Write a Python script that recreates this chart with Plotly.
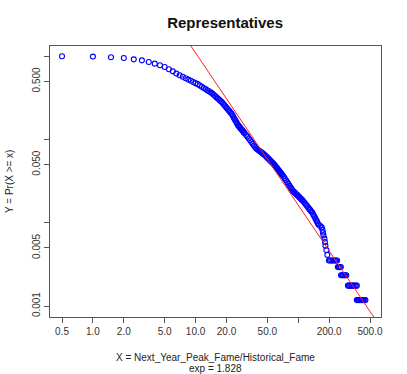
import plotly.graph_objects as go

# ── data (CCDF of fame ratio) ────────────────────────────────────────────────
head_x = [0.5, 1.0, 1.5, 2.0, 2.5, 3.0, 3.5, 4.0, 4.5, 5.0, 5.5, 6.0, 6.5]
head_y = [1.0, 0.992, 0.973, 0.954, 0.92, 0.895, 0.855, 0.817, 0.78, 0.744,
          0.698, 0.66, 0.62]

body_x = [7, 7.5, 8, 8.5, 9, 9.5, 10, 10.5, 11, 11.5, 12, 12.5, 13, 13.5, 14,
          14.5, 15, 15.5, 16, 16.5, 17, 17.5, 18, 18.5, 19, 19.5, 20,
          20.5, 21, 21.5, 22, 22.5, 23, 23.5, 24, 24.5, 25, 25.5, 26, 26.5,
          27, 27.5, 28, 28.5, 29, 29.5, 30,
          31, 32, 33, 34, 35, 36, 37, 38, 39, 40, 41, 42, 43, 44, 45, 46, 47,
          48, 49, 50, 51, 52, 53, 54, 55, 56, 57, 58, 59, 60, 61, 62, 63, 64,
          65, 66, 67, 68, 69, 70,
          72, 74, 76, 78, 80, 82, 84, 86, 88, 90, 92, 94, 96, 98, 100, 102,
          104, 106, 108, 110,
          113, 116, 119, 122, 125, 128, 131, 134, 137, 140, 143, 146, 149,
          152, 155, 158, 164]
body_y = [0.593, 0.568, 0.545, 0.525, 0.508, 0.491, 0.476, 0.463, 0.446,
          0.431, 0.417, 0.404, 0.391, 0.380, 0.369, 0.359, 0.345, 0.333,
          0.321, 0.311, 0.300, 0.291, 0.282, 0.271, 0.260, 0.251, 0.241,
          0.233, 0.225, 0.217, 0.210, 0.203, 0.194, 0.184, 0.176, 0.168,
          0.161, 0.154, 0.148, 0.144, 0.140, 0.136, 0.132, 0.129, 0.126,
          0.122, 0.119,
          0.1136, 0.1084, 0.1031, 0.0981, 0.0934, 0.0891, 0.0850, 0.0813,
          0.0781, 0.0763, 0.0745, 0.0729, 0.0712, 0.0697, 0.0682, 0.0668,
          0.0654, 0.0639, 0.0622, 0.0607, 0.0592, 0.0578, 0.0564, 0.0551,
          0.0539, 0.0527, 0.0515, 0.0504, 0.0490, 0.0478, 0.0466, 0.0454,
          0.0443, 0.0432, 0.0421, 0.0412, 0.0402, 0.0393, 0.0384, 0.0375,
          0.0359, 0.0341, 0.0324, 0.0308, 0.0294, 0.0280, 0.0267, 0.0256,
          0.0245, 0.0238, 0.0232, 0.0226, 0.0220, 0.0215, 0.0210, 0.0204,
          0.0200, 0.0195, 0.0191, 0.0186,
          0.0179, 0.0172, 0.0165, 0.0159, 0.0153, 0.0147, 0.0142, 0.0137,
          0.0133, 0.0126, 0.0120, 0.0114, 0.0109, 0.0104, 0.0099, 0.00947,
          0.00915]

tail_x = [169, 172, 174, 176, 180, 182, 184, 188, 192]
tail_y = [0.00882, 0.00824, 0.00765, 0.00706, 0.00647, 0.00588, 0.00529,
          0.00471, 0.00412]

# tied levels at the very end of the tail
tie_levels = [0.00353, 0.00294, 0.00235, 0.00176, 0.00118]
tie_x = [
    [199, 204, 210, 216, 222, 228, 234, 239],
    [243, 248, 254, 260],
    [261, 267, 273, 280, 287, 294],
    [305, 312, 320, 328, 336, 345, 354, 363, 372],
    [372, 381, 390, 400, 410, 420, 430, 441, 451],
]

# power-law fit line
fit_exp = 1.828
fit_coef = 74.0
fit_x = [0.3, 800.0]

x_ticks = [0.5, 1, 2, 5, 10, 20, 50, 100, 200, 500]
x_ticktext = ["0.5", "1.0", "2.0", "5.0", "10.0", "20.0", "50.0", "",
              "200.0", "500.0"]
y_ticks = [0.001, 0.005, 0.01, 0.05, 0.1, 0.5, 1]
y_ticktext = ["0.001", "0.005", "", "0.050", "", "0.500", ""]

# ── figure ────────────────────────────────────────────────────────────────────
pts_x = head_x + body_x + tail_x
pts_y = head_y + body_y + tail_y
for lvl, xs in zip(tie_levels, tie_x):
    pts_x += xs
    pts_y += [lvl] * len(xs)

FONT = "Liberation Sans, Arial, Helvetica, sans-serif"
AXC = "#555555"

fig = go.Figure()
fig.add_trace(go.Scatter(
    x=pts_x, y=pts_y, mode="markers",
    marker=dict(symbol="circle-open", size=5, color="#0000ff",
                line=dict(width=1.1, color="#0000ff")),
    showlegend=False,
))
fig.add_trace(go.Scatter(
    x=fit_x, y=[fit_coef * v ** (-fit_exp) for v in fit_x],
    mode="lines", line=dict(color="#ff2020", width=1),
    showlegend=False,
))

axis_common = dict(
    type="log", showgrid=False, zeroline=False,
    showline=True, linecolor=AXC, linewidth=1, mirror=True,
    ticks="outside", ticklen=5, tickcolor=AXC, tickwidth=1,
    tickfont=dict(family=FONT, size=10, color="#333333"),
)

fig.update_layout(
    width=407, height=374,
    margin=dict(l=50, r=26, t=46, b=57),
    paper_bgcolor="white", plot_bgcolor="white",
    hovermode=False,
    title=dict(text="<b>Representatives</b>", x=0.529, xref="paper",
               xanchor="center", y=1 - 23 / 374, yanchor="middle",
               font=dict(family=FONT, size=15, color="#111111")),
    xaxis=dict(axis_common, range=[-0.418, 2.806],
               tickvals=x_ticks, ticktext=x_ticktext),
    yaxis=dict(axis_common, range=[-3.131, 0.124],
               tickvals=y_ticks, ticktext=y_ticktext, tickangle=-90),
    annotations=[
        dict(text="X = Next_Year_Peak_Fame/Historical_Fame", xref="paper",
             yref="paper", x=0.5, y=0, yanchor="middle", yshift=-40.5,
             showarrow=False, font=dict(family=FONT, size=10, color="#222")),
        dict(text="exp = 1.828", xref="paper", yref="paper", x=0.5, y=0,
             yanchor="middle", yshift=-51, showarrow=False,
             font=dict(family=FONT, size=10, color="#222")),
        dict(text="Y = Pr(X >= x)", xref="paper", yref="paper", x=0,
             y=0.5, xanchor="center", xshift=-40.5, textangle=-90,
             showarrow=False, font=dict(family=FONT, size=10, color="#222")),
    ],
)

# the page's default 8px body margin would shift the whole chart
fig.write_html("out.html", config={"displayModeBar": False},
               post_script="document.body.style.margin = '0';")
